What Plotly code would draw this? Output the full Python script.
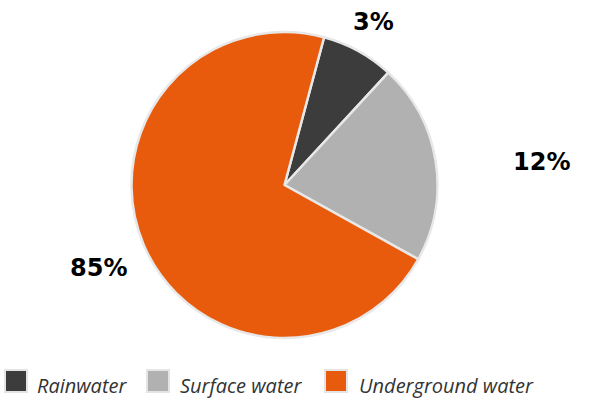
import plotly.graph_objects as go

# ---- data ----
categories = ["Rainwater", "Surface water", "Underground water"]
values = [7.7, 21.2, 71.1]          # slice sizes as drawn
label_text = ["3%", "12%", "85%"]  # labels printed on chart
colors = ["#3c3c3c", "#b1b1b1", "#e95b0c"]

W, H = 604, 401
cx, cy, r = 284.5, 185, 153

fig = go.Figure(go.Pie(
    labels=categories, values=values, sort=False, direction="clockwise",
    rotation=15, textinfo="none", hoverinfo="label+percent",
    marker=dict(colors=colors, line=dict(color="#e8e8e8", width=2.5)),
    domain=dict(x=[(cx - r) / W, (cx + r) / W], y=[1 - (cy + r) / H, 1 - (cy - r) / H]),
    showlegend=False,
))

# outside labels (positions in pixels)
label_pos = [(373, 22), (541, 162), (98, 268)]
for t, (px, py) in zip(label_text, label_pos):
    fig.add_annotation(x=px / W, y=1 - py / H, xref="paper", yref="paper", text=t,
                       showarrow=False, xanchor="center", yanchor="middle",
                       font=dict(family="DejaVu Sans", size=24, color="#000000", weight="bold"))

# custom legend
sq_x = [5, 147, 325]
txt_x = [35, 178, 357]
for name, col, sx, tx in zip(categories, colors, sq_x, txt_x):
    fig.add_shape(type="rect", xref="paper", yref="paper",
                  x0=sx / W, x1=(sx + 22) / W, y0=1 - 392 / H, y1=1 - 370 / H,
                  fillcolor=col, line=dict(color="#e4e4e4", width=2))
    fig.add_annotation(x=tx / W, y=1 - 385 / H, xref="paper", yref="paper", text=name,
                       showarrow=False, xanchor="left", yanchor="middle",
                       font=dict(family="Open Sans", size=20, color="#333333", style="italic"))

fig.update_layout(width=W, height=H, margin=dict(l=0, r=0, t=0, b=0),
                  paper_bgcolor="white", plot_bgcolor="white")
fig.write_html("out.html")
